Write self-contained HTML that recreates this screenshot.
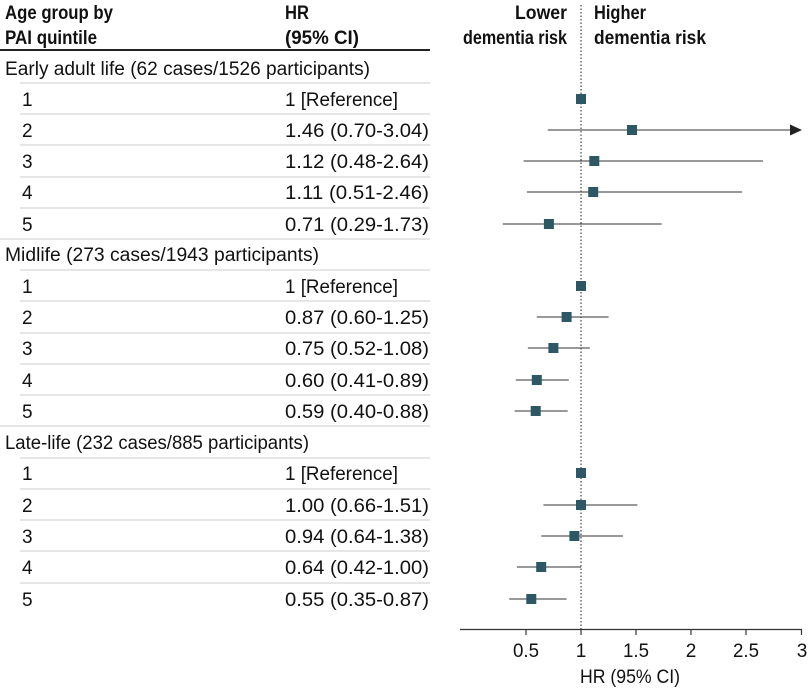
<!DOCTYPE html>
<html><head><meta charset="utf-8"><style>
html,body{margin:0;padding:0;background:#fff}
svg{display:block;font-family:"Liberation Sans",sans-serif}
</style></head><body>
<svg width="810" height="690" viewBox="0 0 810 690" xmlns="http://www.w3.org/2000/svg">
<g font-size="19" fill="#111" font-weight="bold">
<text x="5" y="19" textLength="108" lengthAdjust="spacingAndGlyphs">Age group by</text>
<text x="5" y="44" textLength="92" lengthAdjust="spacingAndGlyphs">PAI quintile</text>
<text x="285" y="19" textLength="24" lengthAdjust="spacingAndGlyphs">HR</text>
<text x="285" y="44" textLength="74" lengthAdjust="spacingAndGlyphs">(95% CI)</text>
<text x="515" y="19" textLength="52" lengthAdjust="spacingAndGlyphs">Lower</text>
<text x="463" y="44" textLength="104" lengthAdjust="spacingAndGlyphs">dementia risk</text>
<text x="594" y="19" textLength="52" lengthAdjust="spacingAndGlyphs">Higher</text>
<text x="594" y="44" textLength="112" lengthAdjust="spacingAndGlyphs">dementia risk</text>
</g>
<line x1="0" y1="50" x2="430" y2="50" stroke="#222" stroke-width="2"/>
<line x1="581" y1="5" x2="581" y2="629" stroke="#444" stroke-width="1.2" stroke-dasharray="1.5,2"/>
<g stroke="#ccc" stroke-width="1">
<line x1="20" y1="83" x2="430" y2="83"/><line x1="20" y1="114" x2="430" y2="114"/><line x1="20" y1="145" x2="430" y2="145"/><line x1="20" y1="177" x2="430" y2="177"/><line x1="20" y1="208" x2="430" y2="208"/><line x1="0" y1="239" x2="430" y2="239"/>
<line x1="20" y1="270" x2="430" y2="270"/><line x1="20" y1="301" x2="430" y2="301"/><line x1="20" y1="333" x2="430" y2="333"/><line x1="20" y1="364" x2="430" y2="364"/><line x1="20" y1="395" x2="430" y2="395"/><line x1="0" y1="426" x2="430" y2="426"/>
<line x1="20" y1="458" x2="430" y2="458"/><line x1="20" y1="489" x2="430" y2="489"/><line x1="20" y1="520" x2="430" y2="520"/><line x1="20" y1="551" x2="430" y2="551"/><line x1="20" y1="583" x2="430" y2="583"/>
</g>
<g font-size="19" fill="#111">
<text x="5" y="75" textLength="365" lengthAdjust="spacingAndGlyphs">Early adult life (62 cases/1526 participants)</text>
<text x="22" y="106">1</text><text x="285" y="106" textLength="113" lengthAdjust="spacingAndGlyphs">1 [Reference]</text>
<text x="22" y="137">2</text><text x="285" y="137" textLength="144" lengthAdjust="spacingAndGlyphs">1.46 (0.70-3.04)</text>
<text x="22" y="168">3</text><text x="285" y="168" textLength="144" lengthAdjust="spacingAndGlyphs">1.12 (0.48-2.64)</text>
<text x="22" y="199">4</text><text x="285" y="199" textLength="144" lengthAdjust="spacingAndGlyphs">1.11 (0.51-2.46)</text>
<text x="22" y="231">5</text><text x="285" y="231" textLength="144" lengthAdjust="spacingAndGlyphs">0.71 (0.29-1.73)</text>
<text x="5" y="261" textLength="314" lengthAdjust="spacingAndGlyphs">Midlife (273 cases/1943 participants)</text>
<text x="22" y="293">1</text><text x="285" y="293" textLength="113" lengthAdjust="spacingAndGlyphs">1 [Reference]</text>
<text x="22" y="324">2</text><text x="285" y="324" textLength="144" lengthAdjust="spacingAndGlyphs">0.87 (0.60-1.25)</text>
<text x="22" y="355">3</text><text x="285" y="355" textLength="144" lengthAdjust="spacingAndGlyphs">0.75 (0.52-1.08)</text>
<text x="22" y="387">4</text><text x="285" y="387" textLength="144" lengthAdjust="spacingAndGlyphs">0.60 (0.41-0.89)</text>
<text x="22" y="418">5</text><text x="285" y="418" textLength="144" lengthAdjust="spacingAndGlyphs">0.59 (0.40-0.88)</text>
<text x="5" y="449" textLength="304" lengthAdjust="spacingAndGlyphs">Late-life (232 cases/885 participants)</text>
<text x="22" y="480">1</text><text x="285" y="480" textLength="113" lengthAdjust="spacingAndGlyphs">1 [Reference]</text>
<text x="22" y="512">2</text><text x="285" y="512" textLength="144" lengthAdjust="spacingAndGlyphs">1.00 (0.66-1.51)</text>
<text x="22" y="543">3</text><text x="285" y="543" textLength="144" lengthAdjust="spacingAndGlyphs">0.94 (0.64-1.38)</text>
<text x="22" y="574">4</text><text x="285" y="574" textLength="144" lengthAdjust="spacingAndGlyphs">0.64 (0.42-1.00)</text>
<text x="22" y="606">5</text><text x="285" y="606" textLength="144" lengthAdjust="spacingAndGlyphs">0.55 (0.35-0.87)</text>
</g>
<g stroke="#333" stroke-width="1">
<line x1="547.8" y1="130" x2="798" y2="130"/>
<line x1="523.6" y1="161" x2="762.9" y2="161"/>
<line x1="526.9" y1="192" x2="742" y2="192"/>
<line x1="502.7" y1="224" x2="661.7" y2="224"/>
<line x1="536.8" y1="317" x2="608.6" y2="317"/>
<line x1="527.9" y1="348" x2="589.8" y2="348"/>
<line x1="515.8" y1="380" x2="568.8" y2="380"/>
<line x1="514.7" y1="411" x2="567.7" y2="411"/>
<line x1="543.4" y1="505" x2="637.4" y2="505"/>
<line x1="541.2" y1="536" x2="623" y2="536"/>
<line x1="516.9" y1="567" x2="581" y2="567"/>
<line x1="509.2" y1="599" x2="566.6" y2="599"/>
</g>
<polygon points="802,130 790,124.5 790,135.5" fill="#222"/>
<g fill="#2e5766">
<rect x="576" y="94" width="10" height="10"/>
<rect x="627" y="125" width="10" height="10"/>
<rect x="589.3" y="156" width="10" height="10"/>
<rect x="588.2" y="187" width="10" height="10"/>
<rect x="543.9" y="219" width="10" height="10"/>
<rect x="576" y="281" width="10" height="10"/>
<rect x="561.6" y="312" width="10" height="10"/>
<rect x="548.4" y="343" width="10" height="10"/>
<rect x="531.8" y="375" width="10" height="10"/>
<rect x="530.7" y="406" width="10" height="10"/>
<rect x="576" y="468" width="10" height="10"/>
<rect x="576" y="500" width="10" height="10"/>
<rect x="569.4" y="531" width="10" height="10"/>
<rect x="536.2" y="562" width="10" height="10"/>
<rect x="526.3" y="594" width="10" height="10"/>
</g>
<g stroke="#333" stroke-width="1.2">
<line x1="460" y1="629.5" x2="802" y2="629.5"/>
<line x1="526" y1="629" x2="526" y2="635"/><line x1="581" y1="629" x2="581" y2="635"/><line x1="636" y1="629" x2="636" y2="635"/><line x1="691" y1="629" x2="691" y2="635"/><line x1="746" y1="629" x2="746" y2="635"/><line x1="801.5" y1="629" x2="801.5" y2="635"/>
</g>
<g font-size="19" fill="#111" text-anchor="middle">
<text x="526" y="657" textLength="26" lengthAdjust="spacingAndGlyphs">0.5</text><text x="581" y="657">1</text><text x="636" y="657" textLength="26" lengthAdjust="spacingAndGlyphs">1.5</text><text x="691" y="657">2</text><text x="746" y="657" textLength="26" lengthAdjust="spacingAndGlyphs">2.5</text><text x="802" y="657">3</text>
<text x="630" y="683" textLength="100" lengthAdjust="spacingAndGlyphs">HR (95% CI)</text>
</g>
</svg>
</body></html>
